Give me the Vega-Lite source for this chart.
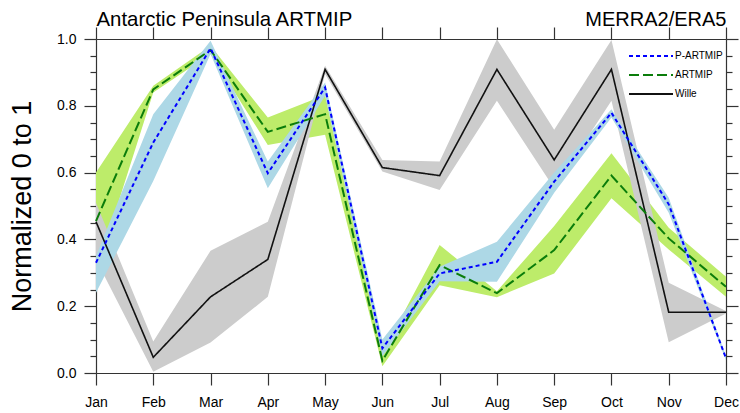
{
  "$schema": "https://vega.github.io/schema/vega-lite/v6.json",
  "width": 630,
  "height": 334,
  "autosize": {"type": "none"},
  "padding": {"left": 96, "top": 39, "right": 14, "bottom": 40},
  "background": "white",
  "config": {
    "view": {"stroke": null},
    "font": "Liberation Sans",
    "axis": {"grid": false, "domainColor": "#333333", "tickColor": "#333333", "domainWidth": 1.2, "tickWidth": 1.2, "labelColor": "black", "titleColor": "black", "labelFont": "Liberation Sans", "titleFont": "Liberation Sans", "titleFontWeight": "normal"},
    "legend": {"labelFont": "Liberation Sans"}
  },
  "data": {
    "values": [
      {"month": "Jan", "series": "P-ARTMIP", "value": 0.33, "lo": 0.24, "hi": 0.35},
      {"month": "Feb", "series": "P-ARTMIP", "value": 0.69, "lo": 0.575, "hi": 0.775},
      {"month": "Mar", "series": "P-ARTMIP", "value": 0.972, "lo": 0.955, "hi": 0.995},
      {"month": "Apr", "series": "P-ARTMIP", "value": 0.598, "lo": 0.553, "hi": 0.633},
      {"month": "May", "series": "P-ARTMIP", "value": 0.855, "lo": 0.83, "hi": 0.87},
      {"month": "Jun", "series": "P-ARTMIP", "value": 0.074, "lo": 0.05, "hi": 0.1},
      {"month": "Jul", "series": "P-ARTMIP", "value": 0.298, "lo": 0.275, "hi": 0.318},
      {"month": "Aug", "series": "P-ARTMIP", "value": 0.333, "lo": 0.273, "hi": 0.393},
      {"month": "Sep", "series": "P-ARTMIP", "value": 0.573, "lo": 0.54, "hi": 0.6},
      {"month": "Oct", "series": "P-ARTMIP", "value": 0.779, "lo": 0.765, "hi": 0.79},
      {"month": "Nov", "series": "P-ARTMIP", "value": 0.505, "lo": 0.48, "hi": 0.525},
      {"month": "Dec", "series": "P-ARTMIP", "value": 0.044, "lo": 0.038, "hi": 0.05},
      {"month": "Jan", "series": "ARTMIP", "value": 0.455, "lo": 0.3, "hi": 0.6},
      {"month": "Feb", "series": "ARTMIP", "value": 0.849, "lo": 0.84, "hi": 0.86},
      {"month": "Mar", "series": "ARTMIP", "value": 0.967, "lo": 0.955, "hi": 0.98},
      {"month": "Apr", "series": "ARTMIP", "value": 0.722, "lo": 0.683, "hi": 0.765},
      {"month": "May", "series": "ARTMIP", "value": 0.775, "lo": 0.713, "hi": 0.832},
      {"month": "Jun", "series": "ARTMIP", "value": 0.037, "lo": 0.02, "hi": 0.06},
      {"month": "Jul", "series": "ARTMIP", "value": 0.323, "lo": 0.263, "hi": 0.383},
      {"month": "Aug", "series": "ARTMIP", "value": 0.239, "lo": 0.227, "hi": 0.245},
      {"month": "Sep", "series": "ARTMIP", "value": 0.368, "lo": 0.298, "hi": 0.44},
      {"month": "Oct", "series": "ARTMIP", "value": 0.591, "lo": 0.523, "hi": 0.658},
      {"month": "Nov", "series": "ARTMIP", "value": 0.403, "lo": 0.37, "hi": 0.435},
      {"month": "Dec", "series": "ARTMIP", "value": 0.258, "lo": 0.228, "hi": 0.288},
      {"month": "Jan", "series": "Wille", "value": 0.453, "lo": 0.34, "hi": 0.51},
      {"month": "Feb", "series": "Wille", "value": 0.047, "lo": 0.004, "hi": 0.094},
      {"month": "Mar", "series": "Wille", "value": 0.228, "lo": 0.091, "hi": 0.366},
      {"month": "Apr", "series": "Wille", "value": 0.34, "lo": 0.228, "hi": 0.453},
      {"month": "May", "series": "Wille", "value": 0.909, "lo": 0.895, "hi": 0.92},
      {"month": "Jun", "series": "Wille", "value": 0.615, "lo": 0.603, "hi": 0.638},
      {"month": "Jul", "series": "Wille", "value": 0.591, "lo": 0.548, "hi": 0.633},
      {"month": "Aug", "series": "Wille", "value": 0.909, "lo": 0.815, "hi": 0.999},
      {"month": "Sep", "series": "Wille", "value": 0.638, "lo": 0.553, "hi": 0.728},
      {"month": "Oct", "series": "Wille", "value": 0.909, "lo": 0.815, "hi": 0.997},
      {"month": "Nov", "series": "Wille", "value": 0.182, "lo": 0.092, "hi": 0.27},
      {"month": "Dec", "series": "Wille", "value": 0.182, "lo": 0.178, "hi": 0.186}
    ]
  },
  "layer": [
    {
      "transform": [{"filter": "datum.series === 'ARTMIP'"}],
      "mark": {"type": "area", "color": "#bdec6a", "opacity": 1},
      "encoding": {
        "x": {"field": "month", "type": "ordinal", "sort": ["Jan","Feb","Mar","Apr","May","Jun","Jul","Aug","Sep","Oct","Nov","Dec"], "scale": {"type": "point", "padding": 0},
              "axis": {"orient": "bottom", "title": null, "labelAngle": 0, "labelFontSize": 14, "tickSize": 12, "labelPadding": 10}},
        "y": {"field": "lo", "type": "quantitative", "scale": {"domain": [0, 1], "nice": false, "zero": false},
              "axis": {"orient": "left", "title": "Normalized 0 to 1", "titleFontSize": 27, "titleX": -74, "titleY": 167, "titleAngle": -90, "titleAlign": "center", "titleBaseline": "middle",
                       "values": [0,0.05,0.1,0.15,0.2,0.25,0.3,0.35,0.4,0.45,0.5,0.55,0.6,0.65,0.7,0.75,0.8,0.85,0.9,0.95,1],
                       "labelExpr": "abs(datum.value*5 - round(datum.value*5)) < 0.001 ? format(datum.value, '.1f') : ''",
                       "labelOverlap": false, "labelFlush": false, "labelFontSize": 14, "labelPadding": 8, "labelBaseline": "middle",
                       "tickSize": {"condition": {"test": "abs(datum.value*5 - round(datum.value*5)) < 0.001", "value": 12}, "value": 6}}},
        "y2": {"field": "hi"}
      }
    },
    {
      "transform": [{"filter": "datum.series === 'Wille'"}],
      "mark": {"type": "area", "color": "#cccccc", "opacity": 1},
      "encoding": {
        "x": {"field": "month", "type": "ordinal", "sort": ["Jan","Feb","Mar","Apr","May","Jun","Jul","Aug","Sep","Oct","Nov","Dec"], "scale": {"type": "point", "padding": 0},
              "axis": {"orient": "top", "labels": false, "tickSize": 12, "title": "MERRA2/ERA5", "titleFontSize": 20, "titleX": 630, "titleY": -14, "titleAlign": "right", "titleBaseline": "alphabetic", "titleAngle": 0}},
        "y": {"field": "lo", "type": "quantitative", "scale": {"domain": [0, 1], "nice": false, "zero": false},
              "axis": {"orient": "right", "labels": false, "title": null,
                       "values": [0,0.05,0.1,0.15,0.2,0.25,0.3,0.35,0.4,0.45,0.5,0.55,0.6,0.65,0.7,0.75,0.8,0.85,0.9,0.95,1],
                       "tickSize": {"condition": {"test": "abs(datum.value*5 - round(datum.value*5)) < 0.001", "value": 12}, "value": 6}}},
        "y2": {"field": "hi"}
      }
    },
    {
      "transform": [{"filter": "datum.series === 'P-ARTMIP'"}],
      "mark": {"type": "area", "color": "#add8e6", "opacity": 1},
      "encoding": {
        "x": {"field": "month", "type": "ordinal", "sort": ["Jan","Feb","Mar","Apr","May","Jun","Jul","Aug","Sep","Oct","Nov","Dec"], "scale": {"type": "point", "padding": 0},
              "axis": {"orient": "top", "labels": false, "ticks": false, "domain": false, "title": "Antarctic Peninsula ARTMIP", "titleFontSize": 20.4, "titleX": 0, "titleY": -14, "titleAlign": "left", "titleBaseline": "alphabetic", "titleAngle": 0}},
        "y": {"field": "lo", "type": "quantitative", "scale": {"domain": [0, 1], "nice": false, "zero": false}, "axis": null},
        "y2": {"field": "hi"}
      }
    },
    {
      "transform": [{"filter": "datum.series === 'Wille'"}],
      "mark": {"type": "line", "strokeWidth": 1.6},
      "encoding": {
        "x": {"field": "month", "type": "ordinal", "sort": ["Jan","Feb","Mar","Apr","May","Jun","Jul","Aug","Sep","Oct","Nov","Dec"], "scale": {"type": "point", "padding": 0}, "axis": null},
        "y": {"field": "value", "type": "quantitative", "scale": {"domain": [0, 1], "nice": false, "zero": false}, "axis": null},
        "stroke": {"field": "series", "type": "nominal", "scale": {"domain": ["P-ARTMIP", "ARTMIP", "Wille"], "range": ["#0000ff", "#0b7d0b", "#111111"]},
                   "legend": {"orient": "none", "legendX": 566, "legendY": 11, "title": null, "symbolType": "M-7.8,0H1", "symbolSize": 100, "symbolStrokeWidth": 2, "labelFontSize": 10, "labelOffset": 1, "rowPadding": 8, "padding": 0, "labelColor": "black"}},
        "strokeDash": {"field": "series", "type": "nominal", "scale": {"domain": ["P-ARTMIP", "ARTMIP", "Wille"], "range": [[4, 3], [10, 4], [1, 0]]},
                   "legend": {"orient": "none", "legendX": 566, "legendY": 11, "title": null, "symbolType": "M-7.8,0H1", "symbolSize": 100, "symbolStrokeWidth": 2, "labelFontSize": 10, "labelOffset": 1, "rowPadding": 8, "padding": 0, "labelColor": "black"}}
      }
    },
    {
      "transform": [{"filter": "datum.series === 'ARTMIP'"}],
      "mark": {"type": "line", "strokeWidth": 2},
      "encoding": {
        "x": {"field": "month", "type": "ordinal", "sort": ["Jan","Feb","Mar","Apr","May","Jun","Jul","Aug","Sep","Oct","Nov","Dec"], "scale": {"type": "point", "padding": 0}, "axis": null},
        "y": {"field": "value", "type": "quantitative", "scale": {"domain": [0, 1], "nice": false, "zero": false}, "axis": null},
        "stroke": {"field": "series", "type": "nominal"},
        "strokeDash": {"field": "series", "type": "nominal"}
      }
    },
    {
      "transform": [{"filter": "datum.series === 'P-ARTMIP'"}],
      "mark": {"type": "line", "strokeWidth": 2},
      "encoding": {
        "x": {"field": "month", "type": "ordinal", "sort": ["Jan","Feb","Mar","Apr","May","Jun","Jul","Aug","Sep","Oct","Nov","Dec"], "scale": {"type": "point", "padding": 0}, "axis": null},
        "y": {"field": "value", "type": "quantitative", "scale": {"domain": [0, 1], "nice": false, "zero": false}, "axis": null},
        "stroke": {"field": "series", "type": "nominal"},
        "strokeDash": {"field": "series", "type": "nominal"}
      }
    }
  ],
  "resolve": {"axis": {"x": "independent", "y": "independent"}}
}
